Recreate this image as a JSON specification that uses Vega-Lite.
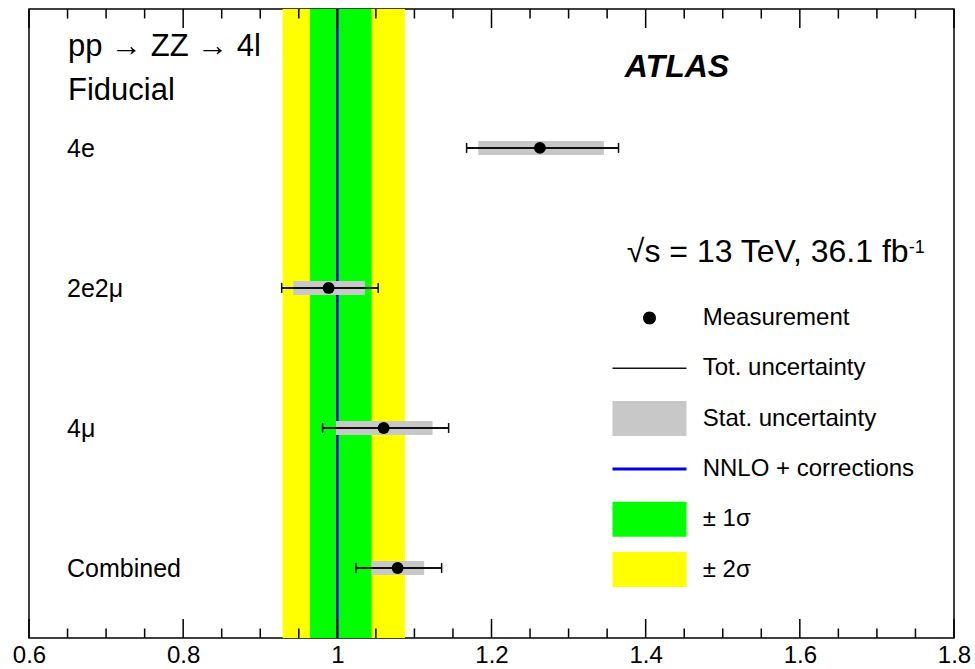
{
  "$schema": "https://vega.github.io/schema/vega-lite/v6.json",
  "width": 925,
  "height": 629,
  "autosize": {"type": "none"},
  "padding": {"left": 29, "top": 9, "right": 21, "bottom": 31},
  "background": "white",
  "config": {
    "font": "Liberation Sans",
    "view": {"stroke": "black", "strokeWidth": 1.5},
    "axis": {"domain": false, "grid": false, "title": null}
  },
  "datasets": {
    "measurements": [
      {"channel": "4e", "value": 1.2628, "stat_lo": 1.1828, "stat_hi": 1.3458, "tot_lo": 1.1677, "tot_hi": 1.3648},
      {"channel": "2e2μ", "value": 0.9887, "stat_lo": 0.9428, "stat_hi": 1.0358, "tot_lo": 0.9278, "tot_hi": 1.053},
      {"channel": "4μ", "value": 1.0601, "stat_lo": 0.9982, "stat_hi": 1.1236, "tot_lo": 0.9809, "tot_hi": 1.1444},
      {"channel": "Combined", "value": 1.0782, "stat_lo": 1.0445, "stat_hi": 1.1127, "tot_lo": 1.0241, "tot_hi": 1.1353}
    ],
    "bands": [
      {"band": "± 2σ", "lo": 0.929, "hi": 1.0877},
      {"band": "± 1σ", "lo": 0.9645, "hi": 1.0445}
    ],
    "prediction": [
      {"model": "NNLO + corrections", "ratio": 1.0}
    ],
    "ticks": [
      {"v": 0.6, "kind": "major"}, {"v": 0.65, "kind": "minor"}, {"v": 0.7, "kind": "minor"}, {"v": 0.75, "kind": "minor"},
      {"v": 0.8, "kind": "major"}, {"v": 0.85, "kind": "minor"}, {"v": 0.9, "kind": "minor"}, {"v": 0.95, "kind": "minor"},
      {"v": 1.0, "kind": "major"}, {"v": 1.05, "kind": "minor"}, {"v": 1.1, "kind": "minor"}, {"v": 1.15, "kind": "minor"},
      {"v": 1.2, "kind": "major"}, {"v": 1.25, "kind": "minor"}, {"v": 1.3, "kind": "minor"}, {"v": 1.35, "kind": "minor"},
      {"v": 1.4, "kind": "major"}, {"v": 1.45, "kind": "minor"}, {"v": 1.5, "kind": "minor"}, {"v": 1.55, "kind": "minor"},
      {"v": 1.6, "kind": "major"}, {"v": 1.65, "kind": "minor"}, {"v": 1.7, "kind": "minor"}, {"v": 1.75, "kind": "minor"},
      {"v": 1.8, "kind": "major"}
    ],
    "legend_entries": [
      {"entry": "Measurement"},
      {"entry": "Tot. uncertainty"},
      {"entry": "Stat. uncertainty"},
      {"entry": "NNLO + corrections"},
      {"entry": "± 1σ"},
      {"entry": "± 2σ"}
    ]
  },
  "layer": [
    {
      "data": {"name": "bands"},
      "mark": {"type": "rect"},
      "encoding": {
        "x": {
          "field": "lo", "type": "quantitative",
          "scale": {"domain": [0.6, 1.8], "nice": false, "zero": false},
          "axis": {
            "orient": "bottom",
            "values": [0.6, 0.8, 1, 1.2, 1.4, 1.6, 1.8],
            "ticks": false, "tickSize": 0,
            "labelFontSize": 24, "labelColor": "black", "labelFont": "Liberation Sans",
            "labelPadding": 5, "labelFlush": false, "labelOverlap": false,
            "format": "~g", "domain": false, "grid": false, "title": null, "zindex": 1
          }
        },
        "x2": {"field": "hi"},
        "color": {
          "field": "band", "type": "nominal",
          "scale": {"domain": ["± 2σ", "± 1σ"], "range": ["#ffff00", "#00ff00"]},
          "legend": null
        }
      }
    },
    {
      "data": {"name": "prediction"},
      "mark": {"type": "rule", "color": "#0000ee", "strokeWidth": 2.5},
      "encoding": {
        "x": {"field": "ratio", "type": "quantitative", "axis": null}
      }
    },
    {
      "data": {"name": "measurements"},
      "layer": [
        {
          "mark": {"type": "bar", "size": 14, "color": "#c8c8c8"},
          "encoding": {
            "x": {"field": "stat_lo", "type": "quantitative", "axis": null},
            "x2": {"field": "stat_hi"},
            "y": {
              "field": "channel", "type": "nominal",
              "scale": {"type": "point", "domain": ["4e", "2e2μ", "4μ", "Combined"], "padding": 0.746, "align": 0.665},
              "axis": null
            }
          }
        },
        {
          "mark": {"type": "rule", "color": "#111111", "strokeWidth": 2},
          "encoding": {
            "x": {"field": "tot_lo", "type": "quantitative", "axis": null},
            "x2": {"field": "tot_hi"},
            "y": {"field": "channel", "type": "nominal", "axis": null}
          }
        },
        {
          "mark": {"type": "tick", "orient": "vertical", "size": 10, "thickness": 1.5, "color": "#111111", "opacity": 1},
          "encoding": {
            "x": {"field": "tot_lo", "type": "quantitative", "axis": null},
            "y": {"field": "channel", "type": "nominal", "axis": null}
          }
        },
        {
          "mark": {"type": "tick", "orient": "vertical", "size": 10, "thickness": 1.5, "color": "#111111", "opacity": 1},
          "encoding": {
            "x": {"field": "tot_hi", "type": "quantitative", "axis": null},
            "y": {"field": "channel", "type": "nominal", "axis": null}
          }
        },
        {
          "mark": {"type": "circle", "size": 140, "color": "black", "opacity": 1},
          "encoding": {
            "x": {"field": "value", "type": "quantitative", "axis": null},
            "y": {"field": "channel", "type": "nominal", "axis": null}
          }
        },
        {
          "mark": {"type": "text", "align": "left", "baseline": "alphabetic", "dy": 9, "fontSize": 25, "color": "black"},
          "encoding": {
            "text": {"field": "channel"},
            "x": {"datum": 0.6493, "type": "quantitative", "axis": null},
            "y": {"field": "channel", "type": "nominal", "axis": null}
          }
        }
      ]
    },
    {
      "layer": [
        {
          "data": {"name": "ticks"},
          "transform": [{"filter": "datum.kind === 'major'"}],
          "mark": {"type": "rule", "color": "black", "strokeWidth": 1.5},
          "encoding": {
            "x": {"field": "v", "type": "quantitative", "axis": null},
            "y": {"datum": 0, "type": "quantitative", "scale": {"domain": [0, 1], "nice": false, "zero": false}, "axis": null},
            "y2": {"datum": 0.0302}
          }
        },
        {
          "data": {"name": "ticks"},
          "transform": [{"filter": "datum.kind === 'minor'"}],
          "mark": {"type": "rule", "color": "black", "strokeWidth": 1.5},
          "encoding": {
            "x": {"field": "v", "type": "quantitative", "axis": null},
            "y": {"datum": 0, "type": "quantitative", "axis": null},
            "y2": {"datum": 0.0151}
          }
        },
        {
          "data": {"name": "ticks"},
          "transform": [{"filter": "datum.kind === 'major'"}],
          "mark": {"type": "rule", "color": "black", "strokeWidth": 1.5},
          "encoding": {
            "x": {"field": "v", "type": "quantitative", "axis": null},
            "y": {"datum": 1, "type": "quantitative", "axis": null},
            "y2": {"datum": 0.9698}
          }
        },
        {
          "data": {"name": "ticks"},
          "transform": [{"filter": "datum.kind === 'minor'"}],
          "mark": {"type": "rule", "color": "black", "strokeWidth": 1.5},
          "encoding": {
            "x": {"field": "v", "type": "quantitative", "axis": null},
            "y": {"datum": 1, "type": "quantitative", "axis": null},
            "y2": {"datum": 0.9849}
          }
        },
        {
          "data": {"values": [{"label": "pp → ZZ → 4l"}]},
          "mark": {"type": "text", "align": "left", "baseline": "alphabetic", "fontSize": 31, "color": "black"},
          "encoding": {
            "text": {"field": "label"},
            "x": {"datum": 0.6506, "type": "quantitative", "axis": null},
            "y": {"datum": 0.9253, "type": "quantitative", "axis": null}
          }
        },
        {
          "data": {"values": [{"label": "Fiducial"}]},
          "mark": {"type": "text", "align": "left", "baseline": "alphabetic", "fontSize": 31, "color": "black"},
          "encoding": {
            "text": {"field": "label"},
            "x": {"datum": 0.6506, "type": "quantitative", "axis": null},
            "y": {"datum": 0.8553, "type": "quantitative", "axis": null}
          }
        },
        {
          "data": {"values": [{"label": "ATLAS"}]},
          "mark": {"type": "text", "align": "left", "baseline": "alphabetic", "fontSize": 32, "fontWeight": "bold", "fontStyle": "italic", "color": "black"},
          "encoding": {
            "text": {"field": "label"},
            "x": {"datum": 1.373, "type": "quantitative", "axis": null},
            "y": {"datum": 0.8924, "type": "quantitative", "axis": null}
          }
        },
        {
          "data": {"values": [{"label": "√s = 13 TeV, 36.1 fb"}]},
          "mark": {"type": "text", "align": "left", "baseline": "alphabetic", "fontSize": 32, "color": "black"},
          "encoding": {
            "text": {"field": "label"},
            "x": {"datum": 1.3756, "type": "quantitative", "axis": null},
            "y": {"datum": 0.5983, "type": "quantitative", "axis": null}
          }
        },
        {
          "data": {"values": [{"label": "-1"}]},
          "mark": {"type": "text", "align": "left", "baseline": "alphabetic", "fontSize": 18, "color": "black"},
          "encoding": {
            "text": {"field": "label"},
            "x": {"datum": 1.7414, "type": "quantitative", "axis": null},
            "y": {"datum": 0.6121, "type": "quantitative", "axis": null}
          }
        }
      ]
    },
    {
      "data": {"name": "legend_entries"},
      "transform": [{"filter": "false"}],
      "mark": {"type": "point", "filled": true, "opacity": 1},
      "encoding": {
        "fill": {
          "field": "entry", "type": "nominal",
          "scale": {
            "domain": ["Measurement", "Tot. uncertainty", "Stat. uncertainty", "NNLO + corrections", "± 1σ", "± 2σ"],
            "range": ["black", "#111111", "#c8c8c8", "#0000ee", "#00ff00", "#ffff00"]
          },
          "legend": {
            "title": null, "orient": "none", "legendX": 600.5, "legendY": 289,
            "symbolSize": 1600, "symbolStrokeWidth": 0,
            "labelFontSize": 24, "labelFont": "Liberation Sans", "labelColor": "black",
            "labelOffset": 33.2, "labelLimit": 400, "rowPadding": 12.3, "padding": 0,
            "symbolOpacity": 1
          }
        },
        "shape": {
          "field": "entry", "type": "nominal",
          "scale": {
            "domain": ["Measurement", "Tot. uncertainty", "Stat. uncertainty", "NNLO + corrections", "± 1σ", "± 2σ"],
            "range": [
              "M-1.85,-0.875M1.85,0.875M0.325,0A0.325,0.325,0,1,1,-0.325,0A0.325,0.325,0,1,1,0.325,0Z",
              "M-1.85,-0.875M1.85,0.875M-1.85,-0.04L1.85,-0.04L1.85,0.04L-1.85,0.04Z",
              "M-1.85,-0.875L1.85,-0.875L1.85,0.875L-1.85,0.875Z",
              "M-1.85,-0.875M1.85,0.875M-1.85,-0.075L1.85,-0.075L1.85,0.075L-1.85,0.075Z",
              "M-1.85,-0.875L1.85,-0.875L1.85,0.875L-1.85,0.875Z",
              "M-1.85,-0.875L1.85,-0.875L1.85,0.875L-1.85,0.875Z"
            ]
          }
        }
      }
    }
  ],
  "resolve": {"scale": {"y": "independent"}, "axis": {"x": "independent", "y": "independent"}}
}
